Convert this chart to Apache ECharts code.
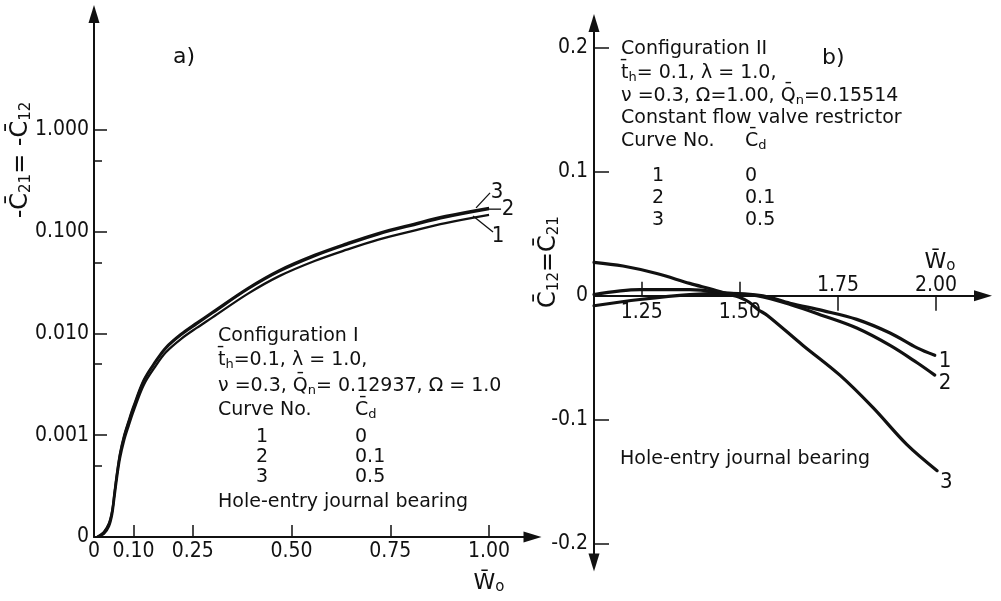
<!DOCTYPE html>
<html>
<head>
<meta charset="utf-8">
<script src="https://cdn.jsdelivr.net/npm/echarts@6/dist/echarts.min.js"></script>
<style>
  html, body { margin: 0; padding: 0; background: #fff; }
  #chart { width: 1001px; height: 601px; }
</style>
</head>
<body>
<div id="chart"></div>
<script>
// ---- Panel a): Configuration I, cross-coupled damping vs load (log scale) ----
const loadA = [0.008, 0.025, 0.038, 0.046, 0.052, 0.058, 0.066, 0.076, 0.088, 0.100, 0.126, 0.155,
               0.182, 0.22, 0.26, 0.30, 0.39, 0.47, 0.56, 0.64, 0.72, 0.81, 0.89, 1.00];
const dampA1 = [1.000e-4, 1.072e-4, 1.274e-4, 1.660e-4, 2.483e-4, 3.758e-4, 5.957e-4, 8.810e-4,
                1.245e-3, 1.718e-3, 3.126e-3, 4.732e-3, 6.531e-3, 8.810e-3, 1.135e-2, 1.439e-2,
                2.466e-2, 3.681e-2, 5.188e-2, 6.668e-2, 8.375e-2, 1.028e-1, 1.216e-1, 1.462e-1];
const dampA2 = [1.000e-4, 1.109e-4, 1.343e-4, 1.778e-4, 2.710e-4, 4.102e-4, 6.501e-4, 9.616e-4,
                1.358e-3, 1.875e-3, 3.412e-3, 5.164e-3, 7.129e-3, 9.616e-3, 1.239e-2, 1.585e-2,
                2.729e-2, 4.093e-2, 5.794e-2, 7.482e-2, 9.441e-2, 1.164e-1, 1.384e-1, 1.667e-1];
const dampA3 = [1.000e-4, 1.122e-4, 1.365e-4, 1.820e-4, 2.786e-4, 4.217e-4, 6.683e-4, 9.886e-4,
                1.396e-3, 1.928e-3, 3.508e-3, 5.309e-3, 7.328e-3, 9.886e-3, 1.274e-2, 1.629e-2,
                2.805e-2, 4.207e-2, 5.957e-2, 7.691e-2, 9.705e-2, 1.197e-1, 1.429e-1, 1.718e-1];
const ticksA_x = [0.10, 0.25, 0.50, 0.75, 1.00];
const labelsA_x = [0, 0.10, 0.25, 0.50, 0.75, 1.00];
const majorA_y = [0.001, 0.01, 0.1, 1];
const minorA_y = [0.0005, 0.005, 0.05, 0.5];
const labelsA_y = [0.0001, 0.001, 0.01, 0.1, 1];
const labelTextA_y = { 0.0001: '0', 0.001: '0.001', 0.01: '0.010', 0.1: '0.100', 1: '1.000' };

// ---- Panel b): Configuration II, linear scale ----
const loadB1 = [1.128, 1.245, 1.372, 1.474, 1.559, 1.628, 1.712, 1.798, 1.883, 1.952, 1.997];
const dampB1 = [-0.008, -0.003, 0.001, 0.002, 0.000, -0.006, -0.012, -0.019, -0.030, -0.042, -0.048];
const loadB2 = [1.128, 1.245, 1.372, 1.474, 1.543, 1.628, 1.712, 1.798, 1.883, 1.952, 1.997];
const dampB2 = [0.001, 0.005, 0.005, 0.002, 0.000, -0.007, -0.016, -0.026, -0.040, -0.054, -0.064];
const loadB3 = [1.128, 1.202, 1.288, 1.372, 1.431, 1.474, 1.497, 1.523, 1.546, 1.571, 1.661, 1.755,
                1.839, 1.926, 2.003];
const dampB3 = [0.027, 0.024, 0.018, 0.010, 0.005, 0.001, -0.001, -0.005, -0.011, -0.016, -0.040, -0.064,
                -0.090, -0.120, -0.141];
const ticksB_xLow = [1.25, 1.50];
const ticksB_xHigh = [1.75, 2.00];
const ticksB_y = [-0.2, -0.1, 0.1, 0.2];
const labelsB_y = [-0.2, -0.1, 0, 0.1, 0.2];

// legend tables
const curveNos = ['1', '2', '3'];
const cdValues = ['0', '0.1', '0.5'];

const INK = '#111';
const TEXT_FONT = "'DejaVu Sans', sans-serif";
const TICK_FONT = "'DejaVu Sans Condensed', 'DejaVu Sans', sans-serif";

const zip = (xs, ys) => xs.map((x, i) => [x, ys[i]]);

const chart = echarts.init(document.getElementById('chart'), null, { renderer: 'canvas' });

// panel b) value range; its horizontal axes sit on the zero line
const B_MIN = -0.215, B_MAX = 0.22;
const GRID_B = { left: 594, top: 23, width: 389, height: 539.4 };
const zeroShiftB = -GRID_B.height * (0 - B_MIN) / (B_MAX - B_MIN);

const axisLineStyle = { color: INK, width: 2 };
const arrowEnd = ['none', 'triangle'];
const tickLabelStyle = { color: INK, fontFamily: TICK_FONT, fontSize: 21 };
const tickStroke = { color: INK, width: 1.5 };

const curveA = (name, ys) => ({
  name, type: 'line', xAxisIndex: 0, yAxisIndex: 0,
  data: zip(loadA, ys), smooth: 0.35, showSymbol: false,
  lineStyle: { color: INK, width: 2.3 }, silent: true
});
const curveB = (name, xs, ys, off) => ({
  name, type: 'line', xAxisIndex: 1, yAxisIndex: 2,
  data: zip(xs, ys), smooth: 0.35, showSymbol: false,
  lineStyle: { color: INK, width: 3.2, cap: 'round' }, silent: true,
  endLabel: { show: true, formatter: name, color: INK, fontFamily: TICK_FONT, fontSize: 22, offset: off, distance: 2 }
});

chart.setOption({
  animation: false,
  backgroundColor: '#fff',
  grid: [
    { left: 94, top: 14, width: 438.5, height: 523 },
    GRID_B
  ],
  xAxis: [
    {
      gridIndex: 0, type: 'value', min: 0, max: 1.11,
      axisLine: { onZero: false, lineStyle: axisLineStyle, symbol: arrowEnd, symbolSize: [11, 18] },
      axisTick: { show: true, inside: true, length: 12, customValues: ticksA_x, lineStyle: tickStroke },
      axisLabel: { customValues: labelsA_x, margin: 4, ...tickLabelStyle,
                   formatter: v => (v === 0 ? '0' : v.toFixed(2)) },
      splitLine: { show: false }
    },
    {
      gridIndex: 1, type: 'value', min: 1.128, max: 2.12, position: 'bottom', offset: zeroShiftB,
      axisLine: { onZero: false, lineStyle: axisLineStyle, symbol: arrowEnd, symbolSize: [11, 18] },
      axisTick: { show: true, inside: true, length: 14, customValues: ticksB_xLow, lineStyle: tickStroke },
      axisLabel: { customValues: ticksB_xLow, margin: 6, ...tickLabelStyle, formatter: v => v.toFixed(2) },
      splitLine: { show: false }
    },
    {
      gridIndex: 1, type: 'value', min: 1.128, max: 2.12, position: 'bottom', offset: zeroShiftB,
      axisLine: { onZero: false, show: false },
      axisTick: { show: true, inside: false, length: 15, customValues: ticksB_xHigh, lineStyle: tickStroke },
      axisLabel: { customValues: ticksB_xHigh, inside: true, margin: 0, ...tickLabelStyle, formatter: v => v.toFixed(2) },
      splitLine: { show: false }
    }
  ],
  yAxis: [
    {
      gridIndex: 0, type: 'log', logBase: 10, min: 0.0001, max: 13.8, position: 'left',
      axisLine: { onZero: false, lineStyle: axisLineStyle, symbol: arrowEnd, symbolSize: [11, 18] },
      axisTick: { show: true, inside: true, length: 13, customValues: majorA_y, lineStyle: tickStroke },
      axisLabel: { customValues: labelsA_y, margin: 5, ...tickLabelStyle,
                   formatter: v => labelTextA_y[v] !== undefined ? labelTextA_y[v] : String(v) },
      splitLine: { show: false }
    },
    {
      gridIndex: 0, type: 'log', logBase: 10, min: 0.0001, max: 13.8, position: 'left',
      axisLine: { show: false, onZero: false },
      axisTick: { show: true, inside: true, length: 8, customValues: minorA_y, lineStyle: tickStroke },
      axisLabel: { show: false },
      splitLine: { show: false }
    },
    {
      gridIndex: 1, type: 'value', min: B_MIN, max: B_MAX, position: 'left',
      axisLine: { onZero: false, lineStyle: axisLineStyle, symbol: ['triangle', 'triangle'], symbolSize: [11, 18] },
      axisTick: { show: true, inside: true, length: 15, customValues: ticksB_y, lineStyle: tickStroke },
      axisLabel: { customValues: labelsB_y, margin: 6, ...tickLabelStyle,
                   formatter: v => (v === 0 ? '0' : v.toFixed(1)) },
      splitLine: { show: false }
    }
  ],
  series: [
    curveA('1', dampA1), curveA('2', dampA2), curveA('3', dampA3),
    curveB('1', loadB1, dampB1, [2, 6]),
    curveB('2', loadB2, dampB2, [2, 8]),
    curveB('3', loadB3, dampB3, [1, 12])
  ]
});

// ---- text annotations ----
const RICH = {
  sub: { fontFamily: TEXT_FONT, fontSize: 13, fill: INK, verticalAlign: 'bottom', lineHeight: 10 }
};
const txt = (x, y, text, opts) => ({
  type: 'text', x, y, silent: true,
  style: Object.assign({
    text, fontFamily: TEXT_FONT, fontSize: 19, fill: INK, lineHeight: 22,
    textAlign: 'left', textVerticalAlign: 'middle', rich: RICH
  }, opts || {})
});
const BIG_RICH = { sub: { fontFamily: TEXT_FONT, fontSize: 15, fill: INK, verticalAlign: 'bottom', lineHeight: 11 } };
const axisName = (x, y, text) => ({
  type: 'text', x, y, rotation: Math.PI / 2, silent: true,
  style: {
    text, fontFamily: TEXT_FONT, fontSize: 24, fill: INK, lineHeight: 26,
    textAlign: 'center', textVerticalAlign: 'middle', rich: BIG_RICH
  }
});
const xName = (x, y) => ({
  type: 'text', x, y, silent: true,
  style: {
    text: 'W\u0304{sub|o}', fontFamily: TEXT_FONT, fontSize: 22, fill: INK, lineHeight: 24,
    textAlign: 'center', textVerticalAlign: 'middle', rich: BIG_RICH
  }
});

const graphics = [];

// panel a) texts
graphics.push(txt(173, 57, 'a)', { fontSize: 22 }));
graphics.push(axisName(21, 160, '-C\u0304{sub|21}= -C\u0304{sub|12}'));
graphics.push(xName(489, 583));
graphics.push(txt(218, 336, 'Configuration I'));
graphics.push(txt(218, 360, 't\u0304{sub|h}=0.1, \u03bb = 1.0,'));
graphics.push(txt(218, 386, '\u03bd =0.3, Q\u0304{sub|n}= 0.12937, \u03a9 = 1.0'));
graphics.push(txt(218, 410, 'Curve No.'));
graphics.push(txt(355, 410, 'C\u0304{sub|d}'));
curveNos.forEach((n, i) => {
  graphics.push(txt(262, 437 + i * 20, n, { textAlign: 'center' }));
  graphics.push(txt(355, 437 + i * 20, cdValues[i]));
});
graphics.push(txt(218, 502, 'Hole-entry journal bearing'));

// panel b) texts
graphics.push(txt(822, 58, 'b)', { fontSize: 22 }));
graphics.push(axisName(549, 262, 'C\u0304{sub|12}=C\u0304{sub|21}'));
graphics.push(xName(940, 262));
graphics.push(txt(621, 49, 'Configuration II'));
graphics.push(txt(621, 73, 't\u0304{sub|h}= 0.1, \u03bb = 1.0,'));
graphics.push(txt(621, 96, '\u03bd =0.3, \u03a9=1.00, Q\u0304{sub|n}=0.15514'));
graphics.push(txt(621, 118, 'Constant flow valve restrictor'));
graphics.push(txt(621, 141, 'Curve No.'));
graphics.push(txt(745, 141, 'C\u0304{sub|d}'));
curveNos.forEach((n, i) => {
  graphics.push(txt(658, 176 + i * 22, n, { textAlign: 'center' }));
  graphics.push(txt(745, 176 + i * 22, cdValues[i]));
});
graphics.push(txt(620, 459, 'Hole-entry journal bearing'));

// panel a) curve numbers with leader lines, anchored at each curve's last point
const finderA = { xAxisIndex: 0, yAxisIndex: 0 };
const last = arr => arr[arr.length - 1];
const end1 = chart.convertToPixel(finderA, [last(loadA), last(dampA1)]);
const end2 = chart.convertToPixel(finderA, [last(loadA), last(dampA2)]);
const end3 = chart.convertToPixel(finderA, [last(loadA), last(dampA3)]);
const leader = (p, a, b) => ({
  type: 'line', silent: true,
  shape: { x1: p[0] + a[0], y1: p[1] + a[1], x2: p[0] + b[0], y2: p[1] + b[1] },
  style: { stroke: INK, lineWidth: 1.3 }
});
graphics.push(leader(end3, [-13, 0], [1, -15]));
graphics.push(leader(end2, [0, 0], [12, 0]));
graphics.push(leader(end1, [-16, 1], [4, 17]));
graphics.push(txt(end3[0] + 8, end3[1] - 16, '3', { fontFamily: TICK_FONT, fontSize: 22, textAlign: 'center' }));
graphics.push(txt(end2[0] + 19, end2[1], '2', { fontFamily: TICK_FONT, fontSize: 22, textAlign: 'center' }));
graphics.push(txt(end1[0] + 9, end1[1] + 21, '1', { fontFamily: TICK_FONT, fontSize: 22, textAlign: 'center' }));

chart.setOption({ graphic: graphics });
</script>
</body>
</html>
